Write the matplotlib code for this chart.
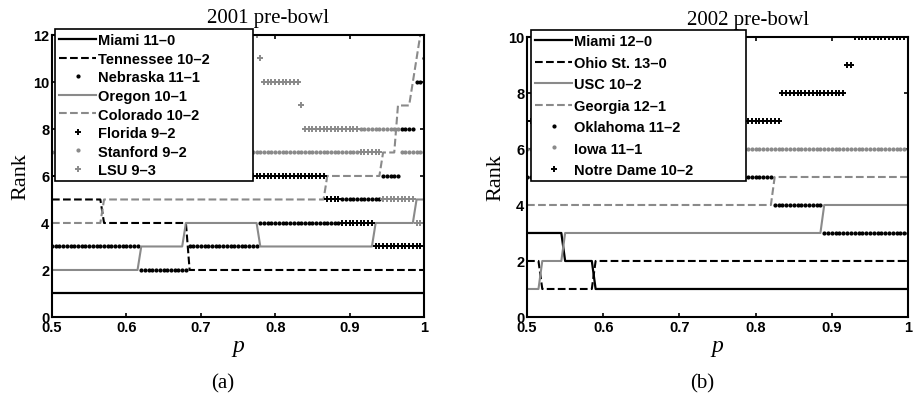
import numpy as np
import matplotlib
matplotlib.use("Agg")
import matplotlib.pyplot as plt

plt.rcParams['font.family'] = ['Liberation Sans', 'DejaVu Sans']

# p sampled from 0.5 to 1 in steps of 0.005
p_start, p_stop, p_step = 0.5, 1.0, 0.005

# rank of each team as (p where the rank starts, rank)
# 2001 pre-bowl
miami_01 = [(0.5, 1)]
tennessee = [(0.5, 5), (0.57, 4), (0.685, 2)]
nebraska = [(0.5, 3), (0.62, 2), (0.685, 3), (0.78, 4), (0.89, 5), (0.945, 6),
            (0.97, 8), (0.99, 10), (1.0, 11)]
oregon = [(0.5, 2), (0.62, 3), (0.68, 4), (0.78, 3), (0.935, 4), (0.99, 5)]
colorado = [(0.5, 4), (0.57, 5), (0.87, 6), (0.945, 7), (0.965, 9), (0.985, 10),
            (0.99, 11), (0.995, 12)]
florida = [(0.5, 6), (0.87, 5), (0.89, 4), (0.935, 3)]
stanford = [(0.5, 7), (0.915, 8), (0.97, 7)]
lsu = [(0.5, 13), (0.775, 12), (0.78, 11), (0.785, 10), (0.835, 9), (0.84, 8),
       (0.915, 7), (0.945, 5), (0.99, 4)]

# 2002 pre-bowl
miami_02 = [(0.5, 3), (0.55, 2), (0.59, 1)]
ohio_st = [(0.5, 2), (0.52, 1), (0.59, 2)]
usc = [(0.5, 1), (0.52, 2), (0.55, 3), (0.89, 4)]
georgia = [(0.5, 4), (0.825, 5)]
oklahoma = [(0.5, 5), (0.825, 4), (0.89, 3)]
iowa = [(0.5, 6)]
notre_dame = [(0.5, 7), (0.835, 8), (0.92, 9), (0.93, 10)]

labels_01 = ['Miami 11\u20130', 'Tennessee 10\u20132', 'Nebraska 11\u20131', 'Oregon 10\u20131',
             'Colorado 10\u20132', 'Florida 9\u20132', 'Stanford 9\u20132', 'LSU 9\u20133']
labels_02 = ['Miami 12\u20130', 'Ohio St. 13\u20130', 'USC 10\u20132', 'Georgia 12\u20131',
             'Oklahoma 11\u20132', 'Iowa 11\u20131', 'Notre Dame 10\u20132']

gray = '#8a8a8a'
styles = {
    'solid_k': dict(color='k', ls='-', lw=1.6),
    'dash_k': dict(color='k', ls='--', lw=1.5),
    'solid_g': dict(color=gray, ls='-', lw=1.5),
    'dash_g': dict(color=gray, ls='--', lw=1.5),
    'dot_k': dict(color='k', ls='none', marker='.', ms=4),
    'dot_g': dict(color=gray, ls='none', marker='.', ms=4),
    'plus_k': dict(color='k', ls='none', marker='+', ms=5, mew=1.4),
    'plus_g': dict(color=gray, ls='none', marker='+', ms=5, mew=1.4),
}

p = np.round(np.arange(p_start, p_stop + p_step / 2, p_step), 3)


def expand(segments):
    starts = np.array([s for s, _ in segments])
    ranks = np.array([r for _, r in segments], dtype=float)
    idx = np.searchsorted(starts, p, side='right') - 1
    return ranks[idx]


def panel(ax, teams, kinds, labels, ymax, title, tag, leg_box, spacing):
    handles = []
    for seg, kind in zip(teams, kinds):
        h, = ax.plot(p, expand(seg), **styles[kind])
        handles.append(h)
    ax.set_xlim(0.5, 1)
    ax.set_ylim(0, ymax)
    ax.set_xticks([0.5, 0.6, 0.7, 0.8, 0.9, 1])
    ax.set_xticklabels(['0.5', '0.6', '0.7', '0.8', '0.9', '1'])
    ax.set_yticks(range(0, ymax + 1, 2))
    ax.tick_params(direction='in', top=True, right=True, length=3, width=1.2,
                   labelsize=10.5, pad=2)
    for t in ax.get_xticklabels() + ax.get_yticklabels():
        t.set_fontweight('bold')
    for s in ax.spines.values():
        s.set_linewidth(1.5)
    ax.text(0.58, 1.03, title, transform=ax.transAxes, ha='center', va='bottom',
            family='Liberation Serif', fontsize=15)
    ax.set_ylabel('Rank', family='Liberation Serif', fontsize=16, labelpad=2)
    ax.set_xlabel('p', family='Liberation Serif', style='italic', fontsize=17,
                  labelpad=1)
    ax.text(0.46, -0.2, tag, transform=ax.transAxes, ha='center', va='top',
            family='Liberation Serif', fontsize=15)
    leg = ax.legend(handles, labels, loc='upper left', bbox_to_anchor=leg_box,
                    mode='expand', numpoints=1, handlelength=2.5, handletextpad=0.15,
                    labelspacing=spacing, borderpad=0.3, borderaxespad=0,
                    fancybox=False, framealpha=1, edgecolor='k',
                    prop=dict(weight='bold', size=10.5))
    leg.get_frame().set_linewidth(1.2)


fig = plt.figure(figsize=(9.15, 4.02), dpi=100)
ax1 = fig.add_axes([0.0568, 0.209, 0.4066, 0.7015])
ax2 = fig.add_axes([0.576, 0.209, 0.4164, 0.6965])

panel(ax1, [miami_01, tennessee, nebraska, oregon, colorado, florida, stanford, lsu],
      ['solid_k', 'dash_k', 'dot_k', 'solid_g', 'dash_g', 'plus_k', 'dot_g', 'plus_g'],
      labels_01, 12, '2001 pre-bowl', '(a)', (0.008, 0.48, 0.532, 0.541), 0.31)
panel(ax2, [miami_02, ohio_st, usc, georgia, oklahoma, iowa, notre_dame],
      ['solid_k', 'dash_k', 'solid_g', 'dash_g', 'dot_k', 'dot_g', 'plus_k'],
      labels_02, 10, '2002 pre-bowl', '(b)', (0.0105, 0.49, 0.564, 0.535), 0.51)

fig.savefig('out.png', dpi=100)
